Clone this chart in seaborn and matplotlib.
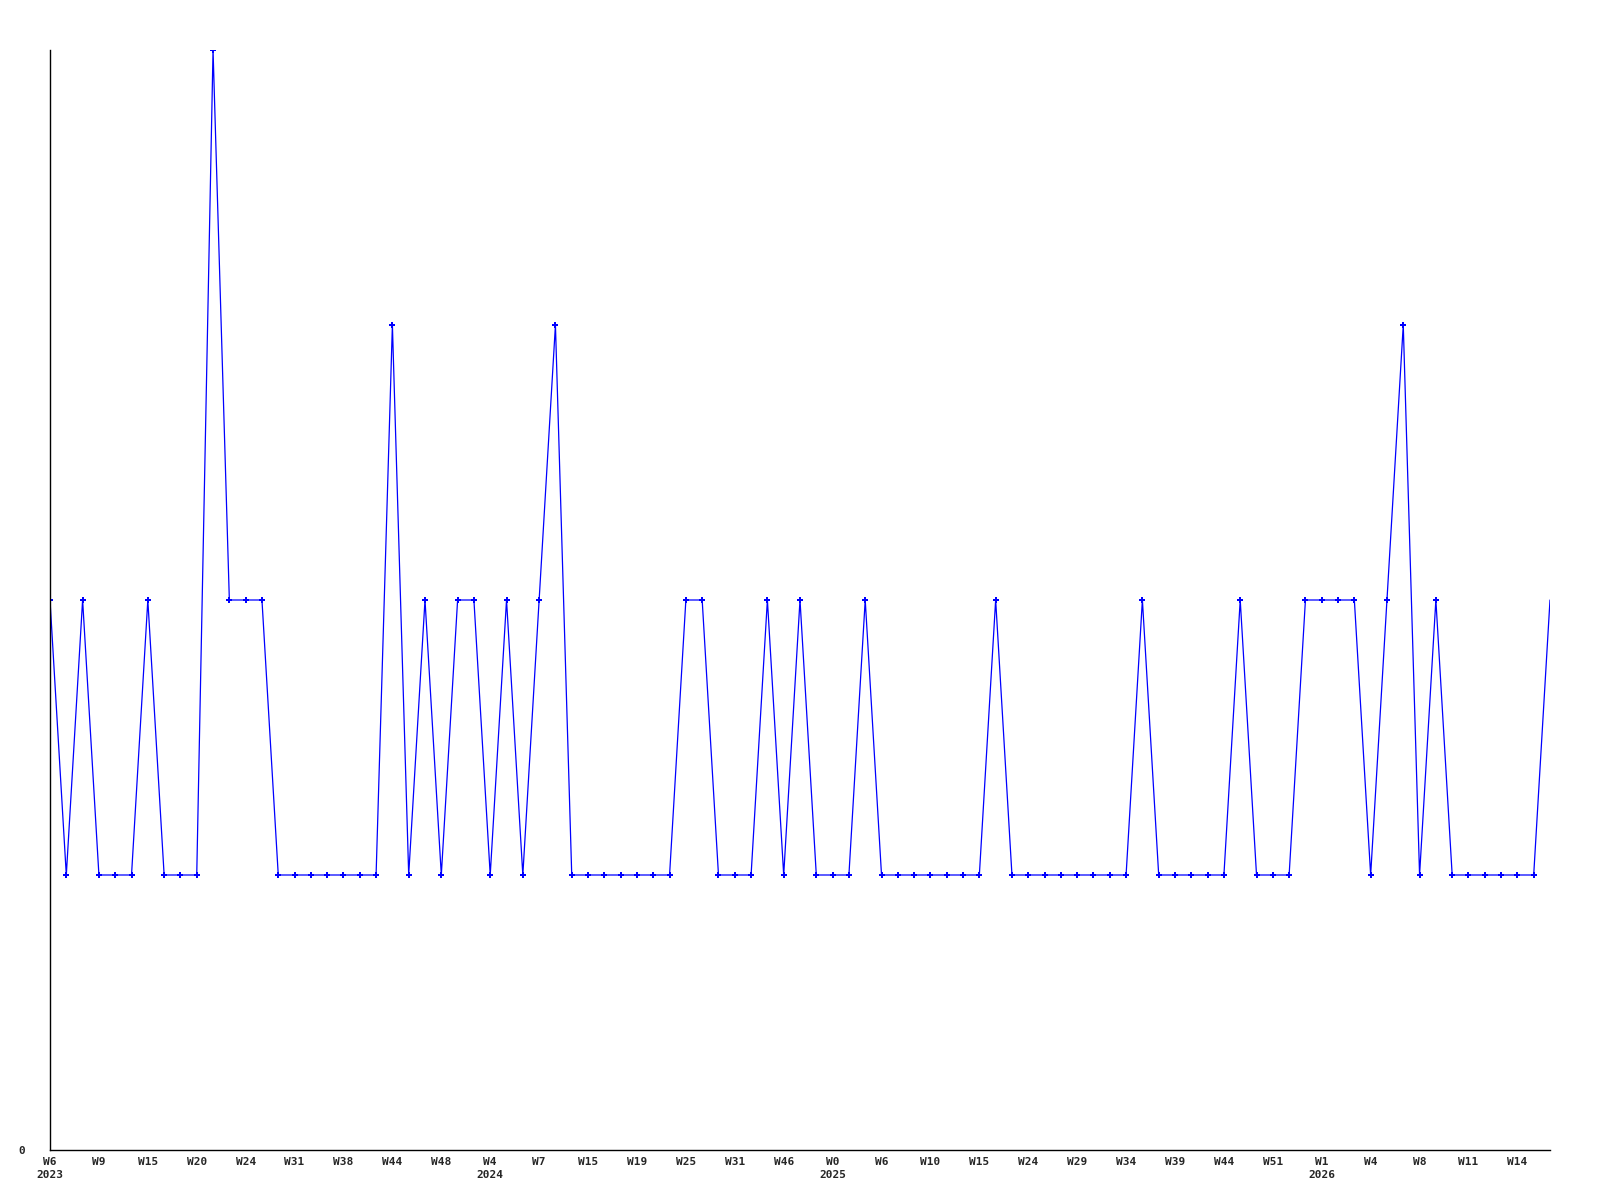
import numpy as np
import pandas as pd
import matplotlib
matplotlib.use("Agg")
import matplotlib.pyplot as plt
import seaborn as sns

# weekly counts, one per plotted week (categorical x positions)
values = [
    2, 1, 2, 1, 1, 1, 2, 1, 1, 1,
    4, 2, 2, 2, 1, 1, 1, 1, 1, 1,
    1, 3, 1, 2, 1, 2, 2, 1, 2, 1,
    2, 3, 1, 1, 1, 1, 1, 1, 1, 2,
    2, 1, 1, 1, 2, 1, 2, 1, 1, 1,
    2, 1, 1, 1, 1, 1, 1, 1, 2, 1,
    1, 1, 1, 1, 1, 1, 1, 2, 1, 1,
    1, 1, 1, 2, 1, 1, 1, 2, 2, 2,
    2, 1, 2, 3, 1, 2, 1, 1, 1, 1,
    1, 1, 2,
]

# labels shown on every third point
week_labels = [
    "W6", "W9", "W15", "W20", "W24", "W31", "W38", "W44", "W48", "W4",
    "W7", "W15", "W19", "W25", "W31", "W46", "W0", "W6", "W10", "W15",
    "W24", "W29", "W34", "W39", "W44", "W51", "W1", "W4", "W8", "W11",
    "W14",
]
year_labels = {0: "2023", 9: "2024", 16: "2025", 26: "2026"}
label_step = 3

df = pd.DataFrame({"idx": np.arange(len(values)), "count": values})

sns.set_style("white")
plt.rcParams["font.family"] = ["DejaVu Sans Mono"]

fig = plt.figure(figsize=(16, 12), dpi=100)
ax = fig.add_axes([50 / 1600, 50 / 1200, 1500 / 1600, 1100 / 1200])

# last point is drawn without a marker in the original
sns.lineplot(data=df, x="idx", y="count", ax=ax, color="#0000ff",
             linewidth=0.9, marker="P", markersize=4.2,
             markeredgewidth=0, markerfacecolor="#0000ff",
             markevery=list(range(len(values) - 1)))

ax.set_xlim(0, len(values) - 1)
ax.set_ylim(0, max(values))

ticks = list(range(0, len(week_labels) * label_step, label_step))
labels = []
for k, w in enumerate(week_labels):
    if k in year_labels:
        labels.append(w + "\n" + year_labels[k])
    else:
        labels.append(w)
ax.set_xticks(ticks)
ax.set_xticklabels(labels, fontsize=8, fontweight="bold", linespacing=1.4)
ax.set_yticks([0])
ax.set_yticklabels(["0"], fontsize=8, fontweight="bold")
ax.tick_params(axis="x", length=0, pad=5)
ax.tick_params(axis="y", length=0, pad=18)

ax.set_xlabel("")
ax.set_ylabel("")
sns.despine(ax=ax)
for s in ["left", "bottom"]:
    ax.spines[s].set_color("black")
    ax.spines[s].set_linewidth(1)

fig.savefig("out.png", dpi=100)
plt.close(fig)
